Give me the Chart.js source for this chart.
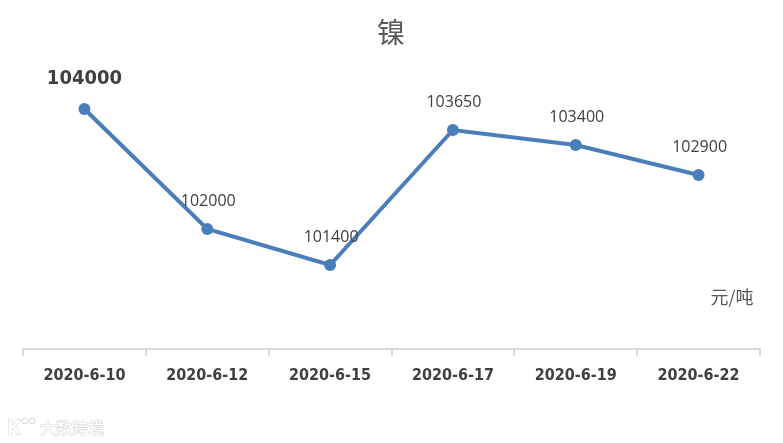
<!DOCTYPE html>
<html>
<head>
<meta charset="utf-8">
<script src="https://cdn.jsdelivr.net/npm/chart.js@4.4.0/dist/chart.umd.min.js"></script>
<style>
    html, body { margin: 0; padding: 0; background: #ffffff; }
    #wrap { width: 783px; height: 443px; position: relative; }
</style>
</head>
<body>
<div id="wrap"><canvas id="nickelChart"></canvas></div>
<script>
const dates = ['2020-6-10', '2020-6-12', '2020-6-15', '2020-6-17', '2020-6-19', '2020-6-22'];
const prices = [104000, 102000, 101400, 103650, 103400, 102900];
const chartTitle = '镍';
const unitText = '元/吨';
const watermark = '大数跨境';

const narrow = '"Liberation Sans Narrow", "DejaVu Sans Condensed", "Noto Sans", sans-serif';
const plain = '"Open Sans", "Liberation Sans", sans-serif';
const cjk = '"Noto Sans CJK SC", sans-serif';

// labels above points, title, unit and watermark
const extraText = {
    id: 'extraText',
    afterDatasetsDraw(chart) {
        const ctx = chart.ctx;
        const meta = chart.getDatasetMeta(0);
        ctx.save();
        ctx.textAlign = 'center';
        ctx.textBaseline = 'middle';
        ctx.fillStyle = '#404040';
        meta.data.forEach((pt, i) => {
            if (i === 0) {
                ctx.font = 'bold 20px ' + narrow;
                ctx.fillText(String(prices[i]), pt.x, pt.y - 30);
            } else {
                ctx.font = '16px ' + plain;
                ctx.fillText(String(prices[i]), pt.x + 1, pt.y - 28);
            }
        });

        ctx.fillStyle = '#595959';
        ctx.font = '28px ' + cjk;
        ctx.fillText(chartTitle, 391, 32);

        ctx.font = '18px ' + cjk;
        ctx.fillText(unitText, 732, 297);

        // watermark
        ctx.strokeStyle = '#d6d6d6';
        ctx.fillStyle = '#ffffff';
        ctx.lineWidth = 1;
        ctx.font = '16px ' + cjk;
        ctx.textAlign = 'left';
        ctx.strokeText(watermark, 40, 428);
        ctx.fillText(watermark, 40, 428);
        ctx.font = 'bold 20px ' + plain;
        ctx.strokeText('K', 7, 428);
        ctx.fillText('K', 7, 428);
        ctx.beginPath();
        ctx.arc(25, 421, 3, 0, Math.PI * 2);
        ctx.moveTo(35, 421);
        ctx.arc(32, 421, 3, 0, Math.PI * 2);
        ctx.stroke();
        ctx.restore();
    }
};

const ctx = document.getElementById('nickelChart').getContext('2d');
new Chart(ctx, {
    type: 'line',
    data: {
        labels: dates,
        datasets: [{
            data: prices,
            borderColor: '#4a7ebb',
            backgroundColor: '#4a7ebb',
            borderWidth: 4,
            pointRadius: 6,
            pointBorderWidth: 0,
            pointHoverRadius: 6,
            tension: 0
        }]
    },
    options: {
        responsive: true,
        maintainAspectRatio: false,
        animation: false,
        layout: { padding: { left: 23, right: 23, top: 49, bottom: 0 } },
        plugins: {
            legend: { display: false },
            tooltip: { enabled: false }
        },
        scales: {
            x: {
                offset: true,
                afterFit(scale) { scale.height = 94; },
                grid: {
                    offset: true,
                    drawOnChartArea: false,
                    color: '#d9d9d9',
                    lineWidth: 2,
                    tickLength: 7
                },
                border: { color: '#d9d9d9', width: 2 },
                ticks: {
                    color: '#404040',
                    font: { family: narrow, size: 16, weight: 'bold' },
                    padding: 10,
                    maxRotation: 0
                }
            },
            y: {
                display: false,
                min: 100000,
                max: 105000
            }
        }
    },
    plugins: [extraText]
});
</script>
</body>
</html>
